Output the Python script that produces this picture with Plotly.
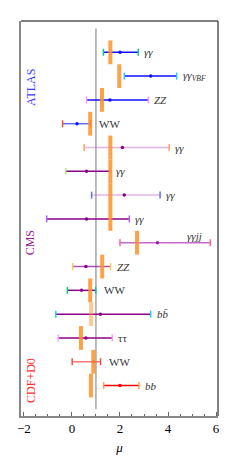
import plotly.graph_objects as go

# ---------------- data ----------------
rows = list(range(1, 16))
channel_labels = ["γγ", "γγVBF", "ZZ", "WW",
                  "γγ", "γγ", "γγ", "γγ", "γγjj", "ZZ", "WW", "bb̄", "ττ",
                  "WW", "bb"]
experiments = ["ATLAS"] * 4 + ["CMS"] * 9 + ["CDF+D0"] * 2
mu_low = [1.31, 2.18, 0.61, -0.39, 0.51, -0.26, 0.82, -1.05, 2.00, 0.03, -0.19, -0.67, -0.57, 0.01, 1.32]
mu_center = [2.00, 3.28, 1.58, 0.21, 2.10, 0.61, 2.18, 0.61, 3.56, 0.58, 0.40, 1.19, 0.58, 0.90, 2.00]
mu_high = [2.76, 4.36, 3.18, 0.78, 4.05, 1.60, 3.67, 2.39, 5.76, 1.61, 0.99, 3.28, 1.68, 1.19, 2.79]
mu_pred = [1.60, 1.97, 1.25, 0.76, 1.60, 1.60, 1.60, 1.60, 2.71, 1.26, 0.76, 0.80, 0.375, 0.89, 0.79]
group_names = ["ATLAS", "CMS", "CDF+D0"]
group_rows = [2.46, 8.99, 14.77]
sm_value = 1.0
x_ticks = [-2, 0, 2, 4, 6]
x_tick_text = ["−2", "0", "2", "4", "6"]

# ---------------- styles ----------------
SERIF = "Liberation Serif, Times New Roman, serif"
group_color = {"ATLAS": "#3a3aff", "CMS": "#9a1a9a", "CDF+D0": "#ff3030"}
# (line colour, cap/dot colour) per row
row_style = {
    1: ("#1010ff", "#1010ff"), 2: ("#1010ff", "#1010ff"), 3: ("#1010ff", "#1010ff"),
    4: ("rgba(30,50,255,0.7)", "#1010ff"),
    5: ("rgba(190,110,200,0.5)", "#8b008b"), 6: ("#8b008b", "#8b008b"),
    7: ("rgba(190,110,200,0.5)", "#8b008b"), 8: ("#8b008b", "#8b008b"),
    9: ("rgba(170,60,180,0.75)", "#a020a0"), 10: ("rgba(150,40,160,0.8)", "#8b008b"),
    11: ("#8b008b", "#8b008b"), 12: ("#8b008b", "#8b008b"), 13: ("#8b008b", "#8b008b"),
    14: ("rgba(255,60,60,0.7)", "#ff2020"), 15: ("#ff0000", "#ff0000"),
}
pred_alpha = {12: 0.5}

fig = go.Figure()

# SM reference line
fig.add_trace(go.Scatter(x=[sm_value, sm_value], y=[0, 16], mode="lines",
                         line=dict(color="#777777", width=1), hoverinfo="skip", showlegend=False))

# measurement bars
for r, lo, c, hi in zip(rows, mu_low, mu_center, mu_high):
    lc, cc = row_style[r]
    fig.add_trace(go.Scatter(x=[lo, hi], y=[r, r], mode="lines",
                             line=dict(color=lc, width=1.5), showlegend=False, hoverinfo="skip"))
    fig.add_trace(go.Scatter(x=[lo, hi], y=[r, r], mode="markers",
                             marker=dict(symbol="line-ns-open", size=5, line=dict(color=cc, width=1.5)),
                             showlegend=False, hoverinfo="skip"))
    fig.add_trace(go.Scatter(x=[c], y=[r], mode="markers",
                             marker=dict(symbol="circle", size=3.5, color=cc),
                             showlegend=False, hoverinfo="skip"))

# predictions (orange)
for r, p in zip(rows, mu_pred):
    a = pred_alpha.get(r, 0.85)
    fig.add_trace(go.Scatter(x=[p, p], y=[r - 0.5, r + 0.5], mode="lines",
                             line=dict(color=f"rgba(255,145,40,{a})", width=4),
                             showlegend=False, hoverinfo="skip"))

# channel labels
def fmt(lbl):
    if lbl == "γγVBF":
        return "<i>γγ</i><sub><i>VBF</i></sub>"
    if lbl in ("WW", "ττ"):
        return lbl
    return f"<i>{lbl}</i>"

for r, lbl, hi, p in zip(rows, channel_labels, mu_high, mu_pred):
    if lbl == "γγjj":
        fig.add_annotation(x=hi, y=r, text="<i>γγjj</i>", showarrow=False, xanchor="right",
                           yanchor="middle", xshift=-6, yshift=7,
                           font=dict(family=SERIF, size=11, color="#333333"))
    else:
        xs = 6 if lbl == "WW" else 4
        fig.add_annotation(x=max(hi, p), y=r, text=fmt(lbl), showarrow=False, xanchor="left",
                           yanchor="middle", xshift=xs, yshift=0,
                           font=dict(family=SERIF, size=11, color="#333333"))

# group labels
for g, gr in zip(group_names, group_rows):
    fig.add_annotation(x=-1.71, y=gr, text=g, showarrow=False, textangle=-90,
                       xanchor="center", yanchor="middle",
                       font=dict(family=SERIF, size=12, color=group_color[g]))

# frame (top and right black)
fig.add_shape(type="line", xref="paper", yref="paper", x0=0, x1=1, y0=1, y1=1,
              line=dict(color="black", width=1))
fig.add_shape(type="line", xref="paper", yref="paper", x0=1, x1=1, y0=0, y1=1,
              line=dict(color="black", width=1))

fig.update_layout(
    width=240, height=458,
    margin=dict(l=21, r=22, t=21, b=42),
    paper_bgcolor="white", plot_bgcolor="white",
    xaxis=dict(range=[-2.12, 6.08], tickvals=x_ticks, ticktext=x_tick_text, automargin=False,
               ticks="inside", ticklen=4, tickcolor="#666666", tickwidth=1,
               minor=dict(dtick=0.5, ticks="inside", ticklen=2.5, tickcolor="#666666"),
               showgrid=False, zeroline=False, showline=True, linecolor="#888888", linewidth=1.5,
               tickfont=dict(family=SERIF, size=13, color="black"),
               title=dict(text="<i>μ</i>", font=dict(family=SERIF, size=13, color="black"), standoff=8)),
    yaxis=dict(range=[16.28, -0.315], showticklabels=False, ticks="", showgrid=False, automargin=False,
               zeroline=False, showline=True, linecolor="#888888", linewidth=2.5),
)

fig.write_html("out.html", config={"displayModeBar": False, "staticPlot": True},
               post_script="document.body.style.margin='0';document.body.style.padding='0';")
